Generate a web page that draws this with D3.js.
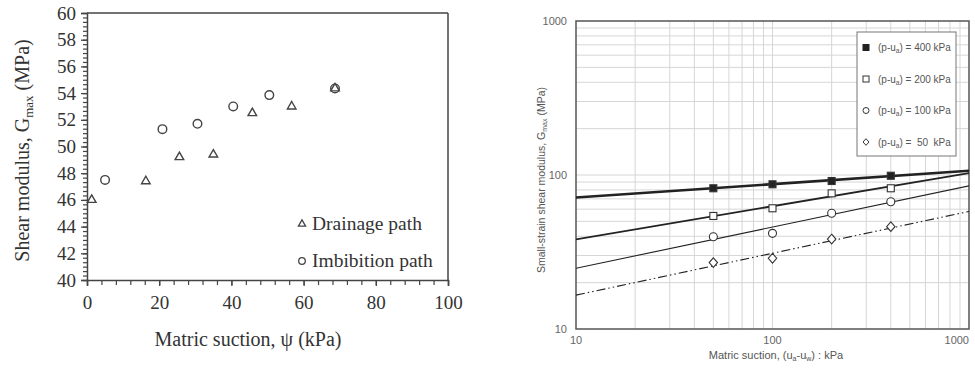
<!DOCTYPE html>
<html><head><meta charset="utf-8">
<script src="https://cdn.jsdelivr.net/npm/d3@7"></script>
<style>
html,body{margin:0;padding:0;background:#fff;}
svg{display:block;}
text{white-space:pre;}
</style></head>
<body>
<svg id="c" width="975" height="368"></svg>
<script>
// ---------- Left panel data ----------
const drainageSuction = [1.3, 16.3, 25.6, 35, 45.8, 56.7, 68.7];
const drainageG       = [46.0, 47.4, 49.2, 49.4, 52.5, 53.0, 54.35];
const imbibitionSuction = [5, 20.9, 30.6, 40.5, 50.5, 68.7];
const imbibitionG       = [47.5, 51.3, 51.7, 53.0, 53.85, 54.35];
const leftYTicks = [40,42,44,46,48,50,52,54,56,58,60];
const leftXTicks = [0,20,40,60,80,100];
const leftLegend = ["Drainage path","Imbibition path"];

// ---------- Right panel data ----------
const suctionR = [50, 100, 200, 400];
const g400 = [82, 87, 91.4, 98.9];
const g200 = [54.2, 60.8, 76, 82];
const g100 = [39.7, 41.8, 56.4, 67.1];
const g50  = [27, 28.8, 38.4, 46.2];
const fitX = [10, 1000];
const fit400 = [71.5, 106.5];
const fit200 = [38.2, 103];
const fit100 = [24.8, 85];
const fit50  = [16.6, 58];
const netStress = ["400","200","100"," 50"];
const rightTicks = [10, 100, 1000];

const svg = d3.select("#c");
const serif = "'Liberation Serif','Times New Roman',serif";
const sans = "'Liberation Sans',Arial,sans-serif";

// =============== LEFT PANEL ===============
const xL = d3.scaleLinear().domain([0,100]).range([87,448]);
const yL = d3.scaleLinear().domain([40,60]).range([280,13]);
const axCol = "#444";

const gL = svg.append("g");
gL.append("line").attr("x1",xL(0)).attr("x2",xL(100)).attr("y1",yL(60)).attr("y2",yL(60)).attr("stroke",axCol).attr("stroke-width",1.5);
gL.append("line").attr("x1",xL(100)).attr("x2",xL(100)).attr("y1",yL(60)).attr("y2",yL(40)).attr("stroke",axCol).attr("stroke-width",1.5);

const yMinor = d3.range(40, 60.001, 2/6);
const yAxisMinor = gL.append("g").attr("transform",`translate(${xL(0)},0)`)
  .call(d3.axisLeft(yL).tickValues(yMinor).tickSize(4).tickFormat(""));
yAxisMinor.selectAll("path").remove();
yAxisMinor.selectAll("line").attr("stroke",axCol).attr("stroke-width",1.2);

const yAxisL = gL.append("g").attr("transform",`translate(${xL(0)},0)`)
  .call(d3.axisLeft(yL).tickValues(leftYTicks).tickSize(6).tickPadding(5));
yAxisL.select("path").attr("stroke",axCol).attr("stroke-width",1.5);
yAxisL.selectAll("line").attr("stroke",axCol).attr("stroke-width",1.3);
yAxisL.selectAll("text").attr("font-family",serif).attr("font-size",19).attr("fill","#333");

const xMinor = d3.range(0,100.001,4);
const xAxisMinor = gL.append("g").attr("transform",`translate(0,${yL(40)})`)
  .call(d3.axisBottom(xL).tickValues(xMinor).tickSize(5).tickFormat(""));
xAxisMinor.selectAll("path").remove();
xAxisMinor.selectAll("line").attr("stroke",axCol).attr("stroke-width",1.2);

const xAxisL = gL.append("g").attr("transform",`translate(0,${yL(40)})`)
  .call(d3.axisBottom(xL).tickValues(leftXTicks).tickSize(6).tickPadding(10));
xAxisL.select("path").attr("stroke",axCol).attr("stroke-width",1.5);
xAxisL.selectAll("line").attr("stroke",axCol).attr("stroke-width",1.3);
xAxisL.selectAll("text").attr("font-family",serif).attr("font-size",19).attr("fill","#333");

const yt = gL.append("text").attr("transform",`translate(29,${(yL(40)+yL(60))/2+4}) rotate(-90)`)
  .attr("text-anchor","middle").attr("font-family",serif).attr("font-size",20).attr("fill","#333");
yt.append("tspan").text("Shear modulus, G");
yt.append("tspan").attr("font-size",13).attr("dy",4).text("max");
yt.append("tspan").attr("dy",-4).text(" (MPa)");

gL.append("text").attr("x",248).attr("y",346).attr("text-anchor","middle")
  .attr("font-family",serif).attr("font-size",20).attr("fill","#333").text("Matric suction, ψ (kPa)");

const triSym = d3.symbol().type(d3.symbolTriangle).size(32);
const markCol = "#444";
gL.selectAll(".tri").data(drainageSuction.map((s,i)=>[s,drainageG[i]])).join("path")
  .attr("d",triSym).attr("transform",d=>`translate(${xL(d[0])},${yL(d[1])})`)
  .attr("fill","none").attr("stroke",markCol).attr("stroke-width",1.4);
gL.selectAll(".circ").data(imbibitionSuction.map((s,i)=>[s,imbibitionG[i]])).join("circle")
  .attr("cx",d=>xL(d[0])).attr("cy",d=>yL(d[1])).attr("r",4.3)
  .attr("fill","none").attr("stroke",markCol).attr("stroke-width",1.4);

const legL = gL.append("g");
legL.append("path").attr("d",d3.symbol().type(d3.symbolTriangle).size(22)).attr("transform","translate(302,224)")
  .attr("fill","none").attr("stroke",markCol).attr("stroke-width",1.3);
legL.append("circle").attr("cx",302).attr("cy",261).attr("r",3.3).attr("fill","none").attr("stroke",markCol).attr("stroke-width",1.3);
legL.append("text").attr("x",312).attr("y",230).attr("font-family",serif).attr("font-size",19.5).attr("fill","#333").text(leftLegend[0]);
legL.append("text").attr("x",312).attr("y",267).attr("font-family",serif).attr("font-size",19.5).attr("fill","#333").text(leftLegend[1]);

// =============== RIGHT PANEL ===============
const xR = d3.scaleLog().domain([10,1000]).range([576,969]);
const yR = d3.scaleLog().domain([10,1000]).range([329,21]);
const gR = svg.append("g");

const gridVals = [];
[10,100].forEach(b=>{ for(let k=1;k<=10;k++) gridVals.push(b*k); });
const gv = Array.from(new Set(gridVals)).filter(v=>v>10 && v<1000);
gR.append("g").selectAll("line").data(gv).join("line")
  .attr("x1",d=>xR(d)).attr("x2",d=>xR(d)).attr("y1",yR(10)).attr("y2",yR(1000))
  .attr("stroke","#d6d6d6").attr("stroke-width",1);
gR.append("g").selectAll("line").data(gv).join("line")
  .attr("y1",d=>yR(d)).attr("y2",d=>yR(d)).attr("x1",xR(10)).attr("x2",xR(1000))
  .attr("stroke","#d6d6d6").attr("stroke-width",1);

gR.append("rect").attr("x",xR(10)).attr("y",yR(1000)).attr("width",xR(1000)-xR(10)).attr("height",yR(10)-yR(1000))
  .attr("fill","none").attr("stroke","#555").attr("stroke-width",1.5);

gR.append("g").selectAll("text").data(rightTicks).join("text")
  .attr("x",567).attr("y",d=>yR(d)+4).attr("text-anchor","end")
  .attr("font-family",sans).attr("font-size",11).attr("fill","#666").text(d=>d);
gR.append("g").selectAll("text").data(rightTicks).join("text")
  .attr("x",d=>Math.min(xR(d), 974 - 0)).attr("y",344)
  .attr("text-anchor",d=>xR(d) > 960 ? "end" : "middle")
  .attr("font-family",sans).attr("font-size",11).attr("fill","#666").text(d=>d);

const ytR = gR.append("text").attr("transform",`translate(545,180) rotate(-90)`)
  .attr("text-anchor","middle").attr("font-family",sans).attr("font-size",10.5).attr("fill","#555");
ytR.append("tspan").text("Small-strain shear modulus, G");
ytR.append("tspan").attr("font-size",7).attr("dy",2).text("max");
ytR.append("tspan").attr("dy",-2).text(" (MPa)");

const xtR = gR.append("text").attr("x",776).attr("y",359).attr("text-anchor","middle")
  .attr("font-family",sans).attr("font-size",11).attr("fill","#555");
xtR.append("tspan").text("Matric suction, (u");
xtR.append("tspan").attr("font-size",7).attr("dy",2).text("a");
xtR.append("tspan").attr("dy",-2).text("-u");
xtR.append("tspan").attr("font-size",7).attr("dy",2).text("w");
xtR.append("tspan").attr("dy",-2).text(") : kPa");

const lineGen = d3.line().x(d=>xR(d[0])).y(d=>yR(d[1]));
const fits = [
  {v:fit400, w:2.6, dash:null},
  {v:fit200, w:1.8, dash:null},
  {v:fit100, w:1.1, dash:null},
  {v:fit50,  w:1.1, dash:"9,3,1.5,3,1.5,3"}
];
svg.append("clipPath").attr("id","clipR").append("rect")
  .attr("x",xR(10)).attr("y",yR(1000)).attr("width",xR(1000)-xR(10)).attr("height",yR(10)-yR(1000));
fits.forEach(f=>{
  gR.append("path").datum(fitX.map((x,i)=>[x,f.v[i]])).attr("d",lineGen)
    .attr("fill","none").attr("stroke","#222").attr("stroke-width",f.w)
    .attr("stroke-dasharray",f.dash).attr("clip-path","url(#clipR)");
});

const mCol = "#333";
function drawSquares(vals, filled){
  gR.append("g").selectAll("rect").data(suctionR.map((s,i)=>[s,vals[i]])).join("rect")
    .attr("x",d=>xR(d[0])-3.5).attr("y",d=>yR(d[1])-3.5).attr("width",7).attr("height",7)
    .attr("fill",filled?"#222":"#fff").attr("stroke",mCol).attr("stroke-width",1.1);
}
drawSquares(g400,true);
drawSquares(g200,false);
gR.append("g").selectAll("circle").data(suctionR.map((s,i)=>[s,g100[i]])).join("circle")
  .attr("cx",d=>xR(d[0])).attr("cy",d=>yR(d[1])).attr("r",4).attr("fill","#fff").attr("stroke",mCol).attr("stroke-width",1.1);
const diamond = "M0,-4.8L4.2,0L0,4.8L-4.2,0Z";
gR.append("g").selectAll("path").data(suctionR.map((s,i)=>[s,g50[i]])).join("path")
  .attr("d",diamond).attr("transform",d=>`translate(${xR(d[0])},${yR(d[1])})`)
  .attr("fill","#fff").attr("stroke",mCol).attr("stroke-width",1.1);

const lg = gR.append("g");
lg.append("rect").attr("x",857).attr("y",32).attr("width",99).attr("height",124)
  .attr("fill","#fff").attr("stroke","#777").attr("stroke-width",1);
const rowsY = [47.5, 79, 110.5, 142];
lg.append("rect").attr("x",863).attr("y",rowsY[0]-3).attr("width",6).attr("height",6).attr("fill","#222").attr("stroke","#222");
lg.append("rect").attr("x",863).attr("y",rowsY[1]-3).attr("width",6).attr("height",6).attr("fill","#fff").attr("stroke",mCol).attr("stroke-width",1);
lg.append("circle").attr("cx",866).attr("cy",rowsY[2]).attr("r",3).attr("fill","#fff").attr("stroke",mCol).attr("stroke-width",1);
lg.append("path").attr("d","M0,-3.3L3,0L0,3.3L-3,0Z").attr("transform",`translate(866,${rowsY[3]})`).attr("fill","#fff").attr("stroke",mCol).attr("stroke-width",1);
netStress.forEach((s,i)=>{
  const t = lg.append("text").attr("x",878).attr("y",rowsY[i]+3.5)
    .attr("font-family",sans).attr("font-size",10).attr("fill","#555");
  t.append("tspan").text("(p-u");
  t.append("tspan").attr("font-size",6.5).attr("dy",2).text("a");
  t.append("tspan").attr("dy",-2).text(") = " + s + (i===3 ? "  kPa" : " kPa"));
});
</script>
</body></html>
